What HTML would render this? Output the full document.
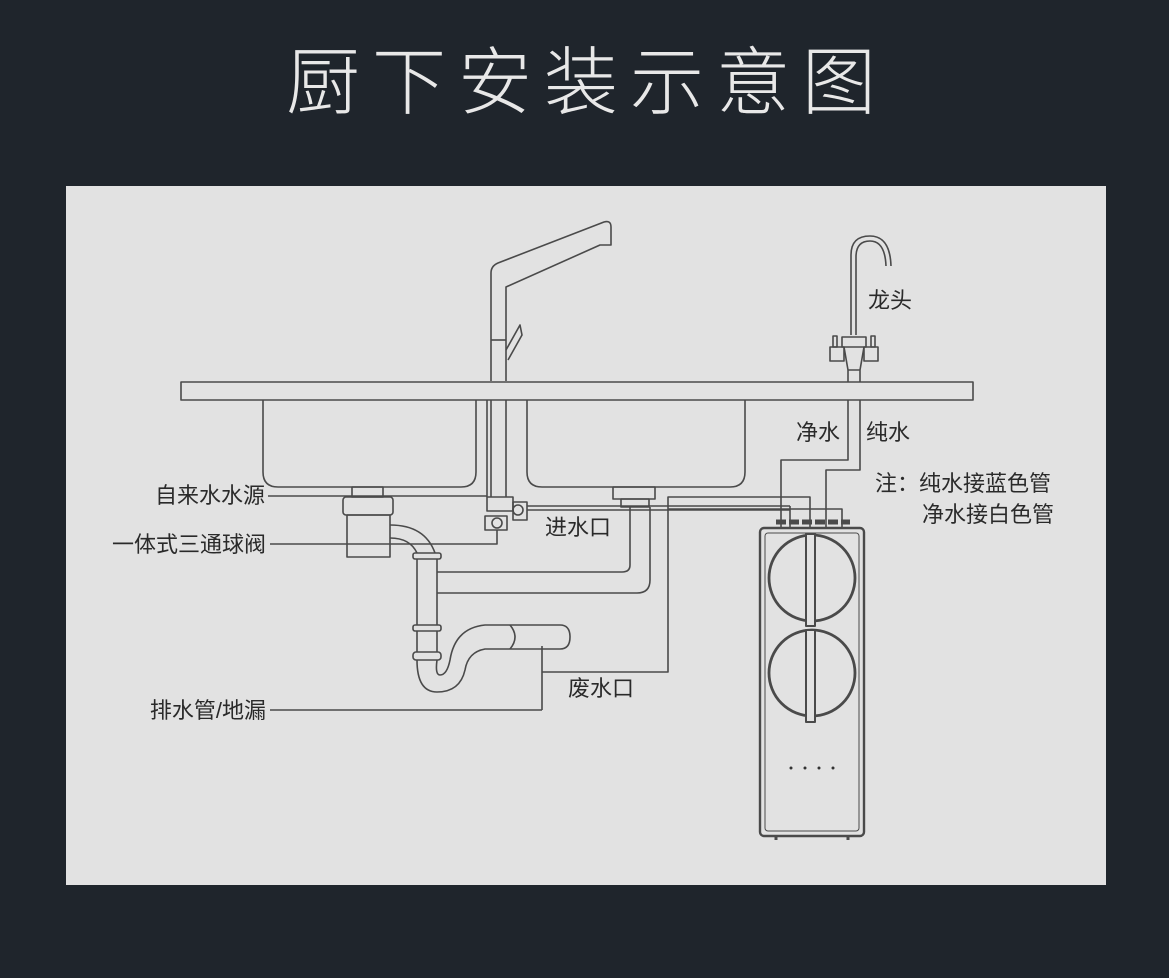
<!DOCTYPE html>
<html><head><meta charset="utf-8"><style>
html,body{margin:0;padding:0;background:#1f252c;}
svg{display:block}
text{font-family:"Liberation Sans","Noto Sans CJK SC",sans-serif;fill:#2a2a2a;}
</style></head><body>
<svg width="1169" height="978" viewBox="0 0 1169 978" xmlns="http://www.w3.org/2000/svg">
<rect width="1169" height="978" fill="#1f252c"/>
<text x="587" y="108" text-anchor="middle" font-size="74" font-weight="300" letter-spacing="12" style="fill:#e8e8e8;font-family:'Noto Sans CJK SC',sans-serif;font-weight:300">厨下安装示意图</text>
<rect x="66" y="186" width="1040" height="699" fill="#e2e2e2"/>
<g fill="none" stroke="#4a4a4a" stroke-width="1.6" stroke-linejoin="round">
<path d="M491 381 V273 Q491 266 498 263 L604 222 Q611 220 611 227 V245 H600 L506 287 V381"/>
<path d="M491 340 H506"/>
<path d="M506 350 L520 325 L522 335 L508 360"/>
<rect x="181" y="382" width="792" height="18"/>
<path d="M263 400 V472 Q263 487 278 487 H461 Q476 487 476 472 V400"/>
<path d="M527 400 V472 Q527 487 542 487 H730 Q745 487 745 472 V400"/>
<path d="M491 400 V497 M506 400 V497 M487 400 V497"/>
<rect x="487" y="497" width="26" height="14"/>
<rect x="485" y="516" width="22" height="14"/>
<circle cx="497" cy="523" r="5"/>
<rect x="513" y="502" width="14" height="18"/>
<circle cx="518" cy="510" r="5"/>
<path d="M527 506 H790 M527 510 H790"/>
<rect x="352" y="487" width="31" height="10"/>
<rect x="343" y="497" width="50" height="18" rx="3"/>
<rect x="347" y="515" width="43" height="42"/>
<path d="M390 525 Q425 525 435 553 M390 538 Q410 538 417 553"/>
<rect x="413" y="553" width="28" height="6" rx="2"/>
<path d="M417 559 V625 M437 559 V625"/>
<rect x="413" y="625" width="28" height="6" rx="2"/>
<path d="M417 631 V652 M437 631 V652"/>
<rect x="413" y="652" width="28" height="8" rx="3"/>
<path d="M417 660 Q417 692 437 692 Q460 692 465 670 Q468 652 485 649 H560 Q570 649 570 637 Q570 625 560 625 H485 Q455 628 450 660 Q447 675 440 675 Q435 675 437 660"/>
<path d="M510 625 Q520 637 510 649"/>
<rect x="613" y="487" width="42" height="12"/>
<rect x="621" y="499" width="28" height="8"/>
<path d="M630 507 V565 Q630 572 622 572 H437 M650 507 V580 Q650 593 637 593 H437"/>
<path d="M542 646 V710 M542 672 H668 V497 H810 V528"/>
<path d="M790 506 V528"/>
<path d="M268 496 H487"/>
<path d="M270 544 H497 V530"/>
<path d="M270 710 H542"/>
<path d="M851 335 V255 Q851 236 870 236 Q890 236 891 266 M856 335 V257 Q856 241 870 241 Q885 241 886 266"/>
<rect x="842" y="337" width="24" height="10"/>
<rect x="830" y="347" width="14" height="14"/>
<rect x="864" y="347" width="14" height="14"/>
<rect x="833" y="336" width="4" height="11"/>
<rect x="871" y="336" width="4" height="11"/>
<path d="M844 347 L848 370 V382 M864 347 L860 370 V382 M848 370 H860"/>
<path d="M848 400 V460 H781 V528 M860 400 V470 H826 V528"/>
<path d="M668 509 H842 V528"/>
<rect x="760" y="528" width="104" height="308" rx="4" stroke-width="2.4"/>
<rect x="765" y="533" width="94" height="298" rx="3" stroke-width="1"/>
<path d="M776 522 H850" stroke-width="5" stroke-dasharray="10 3"/>
<circle cx="812" cy="578" r="43" stroke-width="2.8"/>
<circle cx="812" cy="673" r="43" stroke-width="2.8"/>
<rect x="806" y="534" width="9" height="92" fill="#e2e2e2" stroke-width="2"/>
<rect x="806" y="630" width="9" height="92" fill="#e2e2e2" stroke-width="2"/>
<path d="M848 836 v4 M776 836 v4" stroke-width="3"/>
</g>
<g fill="#333"><circle cx="791" cy="768" r="1.5"/><circle cx="805" cy="768" r="1.5"/><circle cx="819" cy="768" r="1.5"/><circle cx="833" cy="768" r="1.5"/></g>
<g font-size="22">
<text x="265" y="503" text-anchor="end">自来水水源</text>
<text x="266" y="552" text-anchor="end">一体式三通球阀</text>
<text x="266" y="718" text-anchor="end">排水管/地漏</text>
<text x="545" y="535">进水口</text>
<text x="568" y="696">废水口</text>
<text x="868" y="308">龙头</text>
<text x="796" y="440">净水</text>
<text x="866" y="440">纯水</text>
<text x="875" y="491">注：纯水接蓝色管</text>
<text x="922" y="522">净水接白色管</text>
</g>
</svg>
</body></html>
